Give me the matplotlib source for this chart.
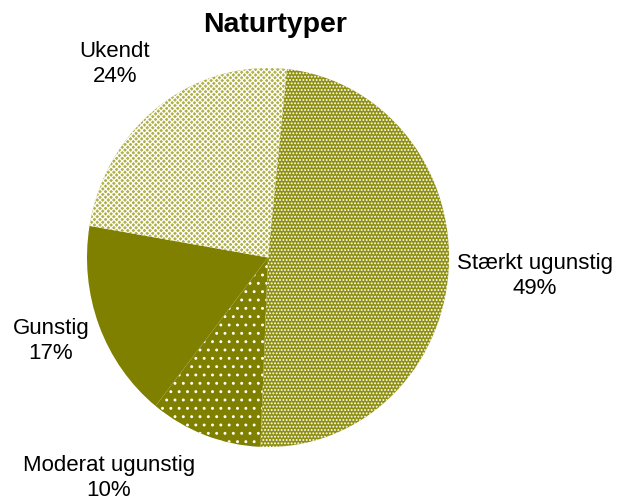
import matplotlib.pyplot as plt

plt.rcParams['font.family'] = ['Liberation Sans', 'DejaVu Sans']

# data
categories = ['Stærkt ugunstig', 'Moderat ugunstig', 'Gunstig', 'Ukendt']
shares = [49, 10, 17, 24]

faces = ['#8f8f10', '#808000', '#808000', '#b0b048']
hatches = ['.....', '..', None, 'xxxxxx']

# label positions in figure pixels (x, y from top)
label_pos = [(535, 276), (109, 478), (51, 341), (115, 64)]

fig = plt.figure(figsize=(6.22, 5.03), dpi=100)
ax = fig.add_axes([87 / 622, 56 / 503, 362 / 622, 379 / 503])

plt.rcParams['hatch.linewidth'] = 0.9
wedges, _ = ax.pie(shares, startangle=84, counterclock=False,
                   colors=faces, radius=1.0)
for w, h in zip(wedges, hatches):
    w.set_linewidth(0)
    if h:
        w.set_edgecolor('white')
        w.set_hatch(h)
ax.set_aspect('auto')
ax.set_xlim(-1, 1)
ax.set_ylim(-1, 1)

for name, val, (px, py) in zip(categories, shares, label_pos):
    fig.text(px / 622, 1 - py / 503, f"{name}\n{val}%", ha='center', va='center',
             fontsize=16, linespacing=1.3)

fig.text(275 / 622, 1 - 25 / 503, "Naturtyper", ha='center', va='center',
         fontsize=20.5, fontweight='bold')

fig.savefig('out.png', dpi=100)
